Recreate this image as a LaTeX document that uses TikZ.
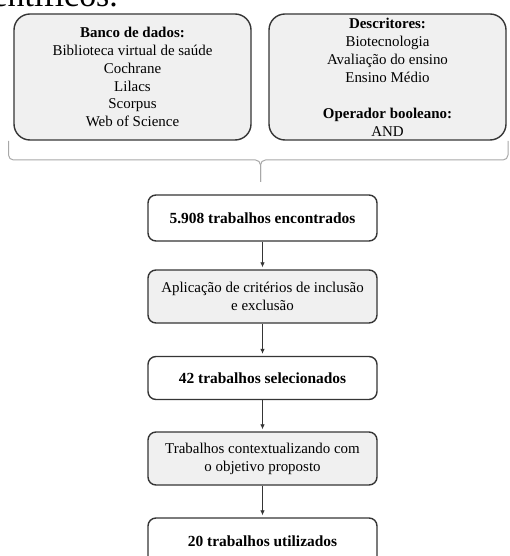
\documentclass[tikz,border=0pt]{standalone}
\usepackage{fontspec}
\setmainfont{Liberation Serif}
\usetikzlibrary{arrows.meta}
\pgfdeclarelayer{bg}
\pgfsetlayers{bg,main}
\definecolor{boxline}{HTML}{353535}
\definecolor{boxfill}{HTML}{F0F0F0}
\definecolor{braceline}{HTML}{A8A8A8}
\tikzset{
  textsize/.style={font=\fontsize{15}{18}\selectfont},
  bigbox/.style={draw=boxline, line width=1.4bp, fill=boxfill, rounded corners=16bp,
    align=center, inner sep=0pt, textsize},
  greybox/.style={draw=boxline, line width=1.4bp, fill=boxfill, rounded corners=8bp,
    align=center, inner sep=0pt, minimum width=229bp, textsize},
  whitebox/.style={greybox, fill=white, font=\fontsize{15.5}{18}\selectfont\bfseries},
  flow/.style={draw=boxline, line width=0.8bp, -{Latex[length=5bp,width=4.5bp]}, shorten >=2bp},
  brace/.style={draw=braceline, line width=1bp, rounded corners=5bp},
}

\begin{document}
\begin{tikzpicture}[x=1bp, y=-1bp]
        \useasboundingbox (0,0) rectangle (510,556);
        \clip (0,0) rectangle (510,556);
        \node (cap) [anchor=south east, inner sep=0pt, text depth=0pt, font=\fontsize{34}{40}\selectfont] at (118, 6.5) {científicos.};
        \node (d0) [bigbox, minimum width=237bp, minimum height=126bp] at (132.5, 77) {
\textbf{Banco de dados:}\\ Biblioteca virtual de saúde\\ Cochrane\\ Lilacs\\ Scorpus\\ Web of Science};
        \node (d1) [bigbox, minimum width=237bp, minimum height=126bp] at (387.5, 77) {
\textbf{Descritores:}\\ Biotecnologia\\ Avaliação do ensino\\ Ensino Médio\\[18bp] \textbf{Operador booleano:}\\ AND};
        \node (s0) [whitebox, minimum height=46bp] at (262.5, 218) {5.908 trabalhos encontrados};
        \node (s1) [greybox, minimum height=53bp] at (262.5, 296.5) {Aplicação de critérios de inclusão\\ e exclusão};
        \node (s2) [whitebox, minimum height=43bp] at (262.5, 378) {42 trabalhos selecionados};
        \node (s3) [greybox, minimum height=53bp] at (262.5, 458.5) {Trabalhos contextualizando com\\ o objetivo proposto};
        \node (s4) [whitebox, minimum height=46bp] at (262.5, 541) {20 trabalhos utilizados};
        \coordinate (tip) at (260.5, 182);
        \begin{pgfonlayer}{bg}
                \draw [brace] (8.5, 141) -- (8.5, 160) -- (260.5, 160) -- (tip);
                \draw [brace] (508, 141) -- (508, 160) -- (260.5, 160) -- (tip);
                \draw (s0) edge [flow] (s1);
                \draw (s1) edge [flow] (s2);
                \draw (s2) edge [flow] (s3);
                \draw (s3) edge [flow] (s4);
        \end{pgfonlayer}
\end{tikzpicture}
\end{document}
